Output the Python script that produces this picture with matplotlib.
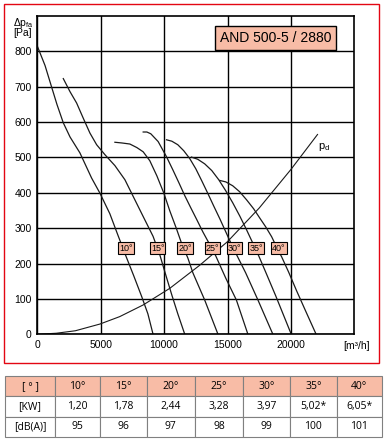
import matplotlib
matplotlib.use('Agg')
import matplotlib.pyplot as plt
from matplotlib.patches import Rectangle

plt.rcParams['font.family'] = ['Liberation Sans', 'DejaVu Sans']

# blade angles
angles = ['10°', '15°', '20°', '25°', '30°', '35°', '40°']

# fan curves: air flow [m3/h] and static pressure [Pa]
q_10 = [0, 610, 1130, 1550, 2050, 2580, 3360, 4280, 4940, 5720, 6350, 6980, 7610, 8240, 8720, 9130]
p_10 = [815, 760, 699, 650, 598, 558, 513, 442, 399, 341, 281, 222, 165, 106, 58, 0]

q_15 = [2050, 2580, 3100, 3600, 4150, 4680, 5330, 6120, 6910, 7560, 8350, 9130, 9660, 10130, 10610, 11080, 11630]
p_15 = [723, 686, 654, 613, 569, 536, 508, 477, 437, 390, 333, 277, 225, 168, 111, 58, 0]

q_20 = [6120, 6670, 7300, 7850, 8350, 8870, 9430, 9980, 10450, 10980, 11390, 11870, 12280, 13200, 14250]
p_20 = [543, 541, 538, 528, 516, 491, 448, 399, 349, 298, 256, 216, 173, 97, 0]

q_25 = [8350, 8640, 8950, 9530, 10190, 10690, 11160, 11630, 12100, 12580, 13050, 13520, 14070, 14860, 15700, 16610]
p_25 = [572, 572, 567, 545, 502, 465, 429, 392, 358, 324, 290, 259, 222, 159, 97, 0]

q_30 = [10190, 10610, 11080, 11550, 12020, 12500, 12970, 13440, 13910, 14390, 14860, 15330, 15800, 16430, 17400, 18580]
p_30 = [550, 546, 536, 519, 497, 468, 434, 399, 363, 327, 290, 253, 219, 174, 97, 0]

q_35 = [12160, 12650, 13200, 13760, 14310, 14860, 15410, 15960, 16510, 16980, 17460, 18010, 18800, 20030]
p_35 = [501, 495, 482, 463, 437, 406, 372, 335, 295, 259, 222, 176, 109, 0]

q_40 = [14390, 14860, 15410, 15960, 16510, 17060, 17540, 18010, 18480, 18870, 19270, 19820, 20450, 21160, 21990]
p_40 = [435, 431, 420, 403, 380, 355, 329, 304, 276, 247, 219, 176, 123, 66, 0]

# dynamic pressure
q_pd = [0, 1500, 3000, 4940, 6500, 8350, 10450, 12800, 15000, 17500, 20000, 22100]
p_pd = [0, 3, 10, 29, 50, 83, 130, 195, 262, 357, 466, 565]

# table
tab_header = ['[ ° ]', '10°', '15°', '20°', '25°', '30°', '35°', '40°']
tab_kw = ['[KW]', '1,20', '1,78', '2,44', '3,28', '3,97', '5,02*', '6,05*']
tab_db = ['[dB(A)]', '95', '96', '97', '98', '99', '100', '101']

curves = [(q_10, p_10), (q_15, p_15), (q_20, p_20), (q_25, p_25),
          (q_30, p_30), (q_35, p_35), (q_40, p_40)]
label_q = [7010, 9490, 11650, 13810, 15560, 17270, 19050]
label_p = 244

salmon = '#F8BCA6'
W, H = 385, 442
fig = plt.figure(figsize=(W / 100, H / 100), dpi=100)

ax = fig.add_axes([37.3 / W, 1 - 334.3 / H, 317 / W, 318.3 / H])
for q, p in curves:
    ax.plot(q, p, color='#1a1a1a', lw=0.9)
ax.plot(q_pd, p_pd, color='#1a1a1a', lw=0.8)

ax.set_xlim(0, 25000)
ax.set_ylim(0, 900)
ax.set_xticks(range(0, 20001, 5000))
ax.set_yticks(range(0, 801, 100))
ax.grid(color='black', lw=1)
ax.tick_params(length=0, labelsize=7.5, pad=4)
for s in ax.spines.values():
    s.set_linewidth(1.2)

for lq, a in zip(label_q, angles):
    ax.text(lq, label_p, a, ha='center', va='center', fontsize=6.5,
            bbox=dict(boxstyle='square,pad=0.12', fc=salmon, ec='black', lw=0.8))

ax.text(0.7524, 0.9315, 'AND 500-5 / 2880', transform=ax.transAxes,
        ha='center', va='center', fontsize=10,
        bbox=dict(boxstyle='square,pad=0.35', fc=salmon, ec='black', lw=1))
ax.text(22100, 531, r'p$_\mathregular{d}$', fontsize=8, ha='left', va='center')

fig.text(12.7 / W, 1 - 22.5 / H, r'Δp$_\mathregular{fa}$', fontsize=7.5, ha='left', va='center')
fig.text(13 / W, 1 - 33 / H, '[Pa]', fontsize=7.5, ha='left', va='center')
fig.text(356.7 / W, 1 - 346 / H, '[m³/h]', fontsize=7.5, ha='center', va='center')

fig.add_artist(Rectangle((4 / W, 1 - 362.7 / H), 375.3 / W, 358.7 / H,
                         transform=fig.transFigure, fill=False, ec='#E30613', lw=1))

tax = fig.add_axes([5 / W, 1 - 437 / H, 376.7 / W, 61 / H])
tax.axis('off')
widths = [50, 45, 46.7, 48.3, 48.3, 46.7, 46.7, 45]
tbl = tax.table(cellText=[tab_kw, tab_db], colLabels=tab_header, cellLoc='center',
                colWidths=[w / sum(widths) for w in widths], bbox=[0, 0, 1, 1])
tbl.auto_set_font_size(False)
tbl.set_fontsize(7.5)
for (r, c), cell in tbl.get_celld().items():
    cell.set_edgecolor('#808080')
    cell.set_linewidth(0.8)
    cell.get_text().set_fontfamily(['Open Sans', 'DejaVu Sans'])
    if r == 0:
        cell.set_facecolor(salmon)

fig.savefig('out.png', dpi=100)
